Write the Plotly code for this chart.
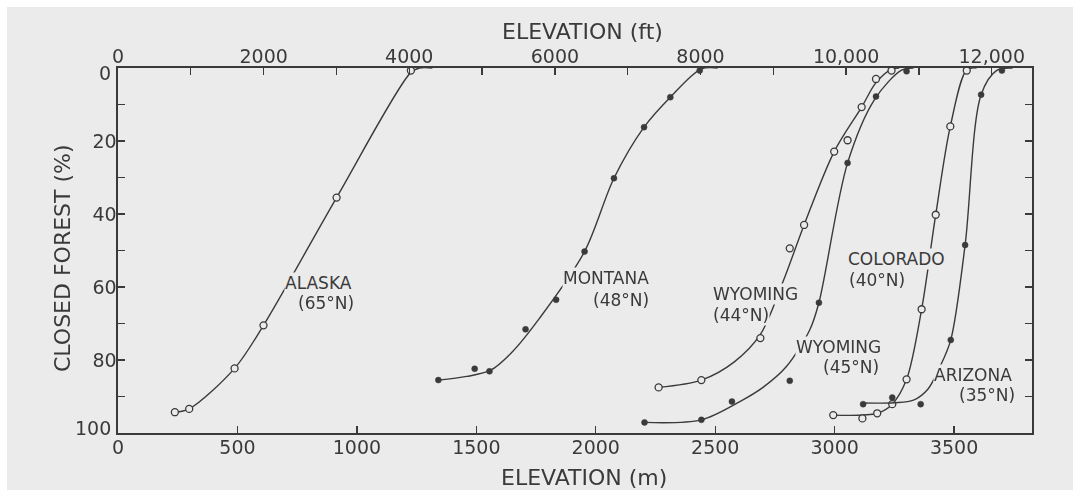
import plotly.graph_objects as go

# ---------------- data ----------------
# elevation in metres, closed forest in %
alaska_m = [238, 298, 488, 609, 915, 1226]
alaska_pct = [94.3, 93.4, 82.3, 70.5, 35.5, 0.7]
alaska_curve_m = [238, 298, 488, 609, 915, 1226, 1262, 1316]
alaska_curve_pct = [94.3, 93.4, 82.3, 70.5, 35.5, 1.2, 0, 0]

montana_m = [1341, 1493, 1555, 1706, 1834, 1953, 2076, 2202, 2312, 2435]
montana_pct = [85.5, 82.4, 83.1, 71.6, 63.5, 50.3, 30.2, 16.2, 8.0, 0.7]
montana_curve_m = [1341, 1460, 1560, 1650, 1764, 1953, 2076, 2202, 2312, 2440, 2510]
montana_curve_pct = [85.5, 84.5, 82.8, 77.8, 68.6, 50.3, 30.2, 16.2, 8.0, 0.3, 0]

wyo44_m = [2263, 2442, 2689, 2812, 2872, 2998, 3054, 3113, 3173, 3238]
wyo44_pct = [87.5, 85.5, 74.0, 49.4, 43.0, 22.9, 19.8, 10.7, 3.0, 0.7]
wyo44_curve_m = [2263, 2442, 2580, 2689, 2784, 2872, 2998, 3113, 3173, 3240, 3270]
wyo44_curve_pct = [87.5, 85.5, 80.5, 73.0, 58.5, 43.0, 22.9, 10.7, 4.0, 0.3, 0]

wyo45_m = [2204, 2442, 2570, 2812, 2934, 3054, 3173, 3301]
wyo45_pct = [97.1, 96.4, 91.4, 85.7, 64.3, 26.0, 7.8, 0.9]
wyo45_curve_m = [2204, 2442, 2603, 2700, 2798, 2896, 2934, 3054, 3168, 3280, 3330]
wyo45_curve_pct = [97.1, 96.4, 91.4, 87.5, 81.8, 71.7, 64.3, 26.0, 8.5, 0.6, 0]

colorado_m = [2994, 3116, 3178, 3241, 3301, 3364, 3423, 3484, 3553]
colorado_pct = [95.1, 96.0, 94.6, 92.1, 85.3, 66.1, 40.2, 16.0, 0.7]
colorado_curve_m = [2994, 3178, 3241, 3301, 3364, 3423, 3484, 3553, 3594]
colorado_curve_pct = [95.1, 94.6, 92.1, 85.3, 66.1, 40.2, 16.0, 0.5, 0]

arizona_m = [3119, 3241, 3360, 3486, 3546, 3613, 3700]
arizona_pct = [92.1, 90.3, 92.1, 74.5, 48.5, 7.3, 0.7]
arizona_curve_m = [3119, 3250, 3330, 3390, 3441, 3486, 3546, 3613, 3680, 3745]
arizona_curve_pct = [91.8, 91.7, 91.0, 88.0, 81.8, 74.5, 48.5, 7.3, 0.6, 0]

m_ticks = [0, 500, 1000, 1500, 2000, 2500, 3000, 3500]
ft_ticks = [0, 1000, 2000, 3000, 4000, 5000, 6000, 7000, 8000, 9000, 10000, 11000, 12000]
ft_labels = ["0", "", "2000", "", "4000", "", "6000", "", "8000", "", "10,000", "", "12,000"]
pct_ticks = [0, 10, 20, 30, 40, 50, 60, 70, 80, 90, 100]
pct_labels = ["", "", "20", "", "40", "", "60", "", "80", "", ""]
pct_end_labels = [("0", 0, -5), ("100", 100, 5)]   # corner labels, nudged as drawn

# (text, elevation m, forest %, anchor side)
labels = [
    ("ALASKA", 984, 58.9, "right"), ("(65°N)", 992, 64.4, "right"),
    ("MONTANA", 2227, 57.5, "right"), ("(48°N)", 2227, 63.6, "right"),
    ("WYOMING", 2487, 61.9, "left"), ("(44°N)", 2487, 67.7, "left"),
    ("WYOMING", 3198, 76.4, "right"), ("(45°N)", 3190, 81.9, "right"),
    ("COLORADO", 3052, 52.3, "left"), ("(40°N)", 3056, 58.1, "left"),
    ("ARIZONA", 3747, 84.1, "right"), ("(35°N)", 3759, 89.6, "right"),
]

title_ft = "ELEVATION (ft)"
title_m = "ELEVATION (m)"
title_pct = "CLOSED FOREST (%)"

M_MAX = 3826
FT_PER_M = 3.28084

# ---------------- styling ----------------
INK = "#3a3a3a"
PAPER = "#ebebeb"
FONT = "DejaVu Sans"
W, H = 1073, 490
ML, MR, MT, MB = 118, 41, 68, 57
PW, PH = W - ML - MR, H - MT - MB

fig = go.Figure()

series = [
    (alaska_curve_m, alaska_curve_pct, alaska_m, alaska_pct, "open"),
    (montana_curve_m, montana_curve_pct, montana_m, montana_pct, "filled"),
    (wyo44_curve_m, wyo44_curve_pct, wyo44_m, wyo44_pct, "open"),
    (wyo45_curve_m, wyo45_curve_pct, wyo45_m, wyo45_pct, "filled"),
    (colorado_curve_m, colorado_curve_pct, colorado_m, colorado_pct, "open"),
    (arizona_curve_m, arizona_curve_pct, arizona_m, arizona_pct, "filled"),
]

for cx, cy, px, py, kind in series:
    fig.add_trace(go.Scatter(
        x=cx, y=cy, mode="lines",
        line=dict(color=INK, width=1.4, shape="spline", smoothing=0.9),
        hoverinfo="skip", showlegend=False,
    ))
    if kind == "open":
        marker = dict(symbol="circle", size=7, color=PAPER,
                      line=dict(color=INK, width=1.3))
    else:
        marker = dict(symbol="circle", size=6, color=INK,
                      line=dict(color=INK, width=0.5))
    fig.add_trace(go.Scatter(x=px, y=py, mode="markers", marker=marker,
                             showlegend=False, cliponaxis=False))

# invisible trace so the top (ft) axis is drawn
fig.add_trace(go.Scatter(x=[v * FT_PER_M for v in alaska_m], y=alaska_pct,
                         xaxis="x2", mode="markers", opacity=0,
                         hoverinfo="skip", showlegend=False))

for text, x, y, align in labels:
    fig.add_annotation(
        text=text, x=x, y=y, xref="x", yref="y", showarrow=False,
        xanchor=align, yanchor="middle", align=align,
        font=dict(family=FONT, size=17, color=INK),
        bgcolor=PAPER, borderpad=0,
    )

tickfont = dict(family=FONT, size=19, color=INK)
for text, val, shift in pct_end_labels:
    fig.add_annotation(text=text, xref="paper", yref="y", x=0, y=val,
                       xanchor="right", yanchor="middle", xshift=-5, yshift=shift,
                       showarrow=False, font=tickfont)

def px_x(p):  # page pixel -> paper x
    return (p - ML) / PW

def px_y(p):  # page pixel -> paper y
    return (H - MB - p) / PH

titlefont = dict(family=FONT, size=22, color=INK)
fig.add_annotation(text=title_ft, xref="paper", yref="paper", x=px_x(582), y=px_y(32),
                   xanchor="center", yanchor="middle", showarrow=False, font=titlefont)
fig.add_annotation(text=title_m, xref="paper", yref="paper", x=px_x(584), y=px_y(477),
                   xanchor="center", yanchor="middle", showarrow=False, font=titlefont)
fig.add_annotation(text=title_pct, xref="paper", yref="paper", x=px_x(62), y=px_y(258),
                   xanchor="center", yanchor="middle", textangle=-90,
                   showarrow=False, font=titlefont)

# white unscanned strips along the top and left edges
fig.add_shape(type="rect", xref="paper", yref="paper", layer="below",
              x0=px_x(-5), x1=px_x(W + 5), y0=px_y(7), y1=px_y(-5),
              fillcolor="white", line=dict(width=0))
fig.add_shape(type="rect", xref="paper", yref="paper", layer="below",
              x0=px_x(-5), x1=px_x(7), y0=px_y(H + 5), y1=px_y(-5),
              fillcolor="white", line=dict(width=0))

fig.update_layout(
    width=W, height=H,
    margin=dict(l=ML, r=MR, t=MT, b=MB),
    paper_bgcolor=PAPER, plot_bgcolor=PAPER,
    font=dict(family=FONT, color=INK),
    hovermode=False,
    xaxis=dict(
        range=[0, M_MAX], tickvals=m_ticks, ticks="inside", ticklen=7,
        tickwidth=1.3, tickcolor=INK, showline=True, linecolor=INK,
        linewidth=1.6, showgrid=False, zeroline=False, tickfont=tickfont,
        ticklabelstandoff=-3,
    ),
    xaxis2=dict(
        overlaying="x", side="top", anchor="y",
        range=[0, M_MAX * FT_PER_M], tickvals=ft_ticks, ticktext=ft_labels,
        ticks="inside", ticklen=7, tickwidth=1.3, tickcolor=INK,
        showline=True, linecolor=INK, linewidth=1.6, showgrid=False,
        zeroline=False, tickfont=tickfont, ticklabelstandoff=-4,
    ),
    yaxis=dict(
        range=[100, 0], tickvals=pct_ticks, ticktext=pct_labels,
        ticks="inside", ticklen=7, tickwidth=1.3, tickcolor=INK,
        showline=True, linecolor=INK, linewidth=1.6, mirror="ticks",
        showgrid=False, zeroline=False, tickfont=tickfont,
        ticklabelstandoff=-4,
    ),
)

fig.write_html(
    "out.html",
    config={"displayModeBar": False, "staticPlot": True},
    post_script="document.body.style.margin='0';document.body.style.overflow='hidden';",
)
